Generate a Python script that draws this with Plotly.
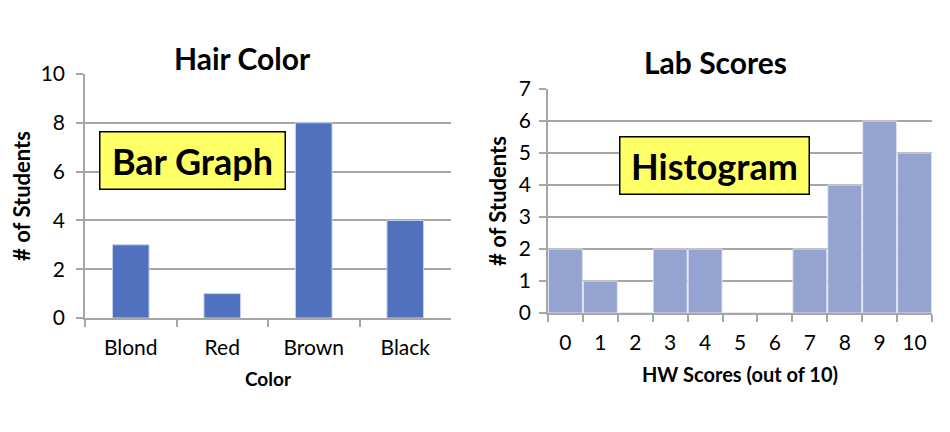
import plotly.graph_objects as go

# left chart: hair colour counts
hair_colors = ['Blond', 'Red', 'Brown', 'Black']
hair_counts = [3, 1, 8, 4]

# right chart: lab score histogram
hw_scores = ['0', '1', '2', '3', '4', '5', '6', '7', '8', '9', '10']
score_counts = [2, 1, 0, 2, 2, 0, 0, 2, 4, 6, 5]

FONT = 'Lato'
GRID = '#A6A6A6'
W, H = 950, 432
PAGE_PAD = 8  # default body margin of the html page


def fx(px):
    return (px - PAGE_PAD) / W


def fy(px):
    return 1 - (px - PAGE_PAD) / H


fig = go.Figure()

fig.add_trace(go.Bar(
    x=hair_colors, y=hair_counts, xaxis='x', yaxis='y',
    marker=dict(color='#4F71BE', line=dict(color='#C9D3EE', width=1)),
    width=0.4, showlegend=False,
))
fig.add_trace(go.Bar(
    x=hw_scores, y=score_counts, xaxis='x2', yaxis='y2',
    marker=dict(color='#95A3D1', line=dict(color='#DCE1F0', width=1)),
    width=0.97, showlegend=False,
))

axis_common = dict(
    showline=True, linecolor=GRID, linewidth=1.5,
    ticks='outside', tickcolor=GRID, ticklen=7, tickwidth=1.5,
    tickfont=dict(family=FONT, size=21, color='black'),
    fixedrange=True, automargin=False,
)

fig.update_layout(
    width=W, height=H,
    margin=dict(l=0, r=0, t=0, b=0),
    plot_bgcolor='white', paper_bgcolor='white',
    font=dict(family=FONT, color='black'),
    xaxis=dict(
        domain=[fx(85), fx(451)], anchor='y',
        tickson='boundaries', showgrid=False, ticklabelstandoff=10,
        title=dict(text='<b>Color</b>', font=dict(size=19), standoff=15),
        **axis_common,
    ),
    yaxis=dict(
        domain=[fy(318), fy(74)], anchor='x',
        range=[0, 10], dtick=2, showgrid=True, gridcolor=GRID, gridwidth=1.5,
        zeroline=False, ticklabelstandoff=7,
        title=dict(text='<b># of Students</b>', font=dict(size=22), standoff=8),
        **axis_common,
    ),
    xaxis2=dict(
        domain=[fx(548), fx(932)], anchor='y2',
        tickson='boundaries', showgrid=False, ticklabelstandoff=10,
        title=dict(text='<b>HW Scores (out of 10)</b>', font=dict(size=20), standoff=15),
        **axis_common,
    ),
    yaxis2=dict(
        domain=[fy(313), fy(89)], anchor='x2',
        range=[0, 7], dtick=1, showgrid=True, gridcolor=GRID, gridwidth=1.5,
        zeroline=False, ticklabelstandoff=4,
        title=dict(text='<b># of Students</b>', font=dict(size=22), standoff=6),
        **axis_common,
    ),
    annotations=[
        dict(text='<b>Hair Color</b>', x=fx(242), y=fy(58),
             xref='paper', yref='paper', xanchor='center', yanchor='middle',
             showarrow=False, font=dict(family=FONT, size=30)),
        dict(text='<b>Lab Scores</b>', x=fx(715), y=fy(62),
             xref='paper', yref='paper', xanchor='center', yanchor='middle',
             showarrow=False, font=dict(family=FONT, size=30)),
        dict(text='<b>Bar Graph</b>', x=fx(192), y=fy(160),
             xref='paper', yref='paper', xanchor='center', yanchor='middle',
             showarrow=False,
             width=182, height=54, bgcolor='#FFFF66',
             bordercolor='black', borderwidth=1.5,
             font=dict(family=FONT, size=36)),
        dict(text='<b>Histogram</b>', x=fx(714), y=fy(166),
             xref='paper', yref='paper', xanchor='center', yanchor='middle',
             showarrow=False,
             width=186, height=54, bgcolor='#FFFF66',
             bordercolor='black', borderwidth=1.5,
             font=dict(family=FONT, size=36)),
    ],
)

fig.write_html('out.html')
